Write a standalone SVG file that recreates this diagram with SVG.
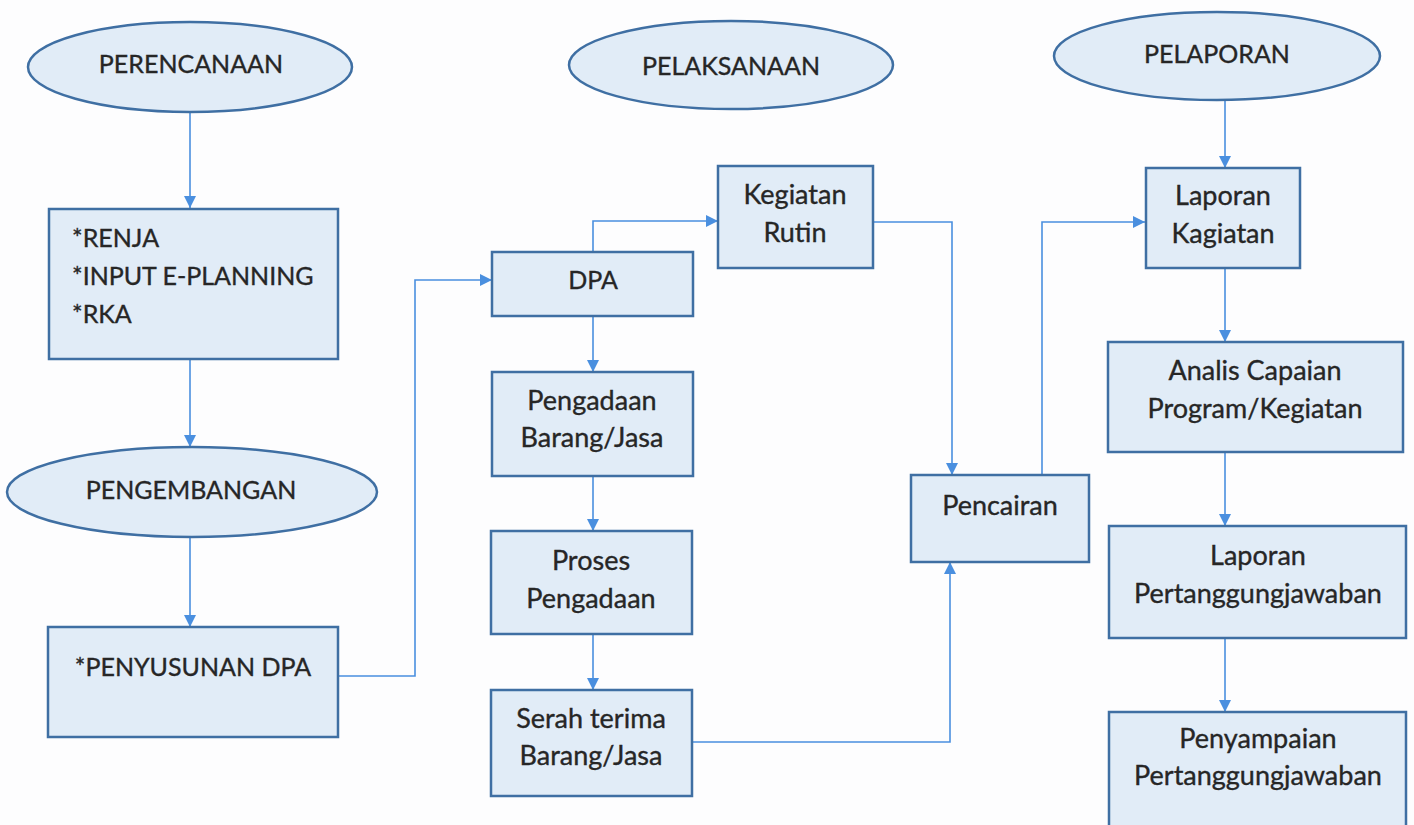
<svg xmlns="http://www.w3.org/2000/svg" width="1414" height="825" viewBox="0 0 1414 825">
  <style>
    .node { fill: #e1ecf7; stroke: #3f6fa3; stroke-width: 2.5; }
    .label { font-family: Lato, "Liberation Sans", sans-serif; font-size: 27px; fill: #262626; stroke: #262626; stroke-width: 0.35; text-anchor: middle; }
    .caps { font-size: 25px; }
    .left { text-anchor: start; }
    .link { fill: none; stroke: #4a8fdf; stroke-width: 1.6; }
  </style>
  <defs>
    <marker id="arrow" viewBox="0 0 10 10" refX="10" refY="5" markerWidth="12" markerHeight="12" markerUnits="userSpaceOnUse" orient="auto">
      <path d="M0,0 L10,5 L0,10 z" fill="#4a8fdf"/>
    </marker>
  </defs>
  <rect width="1414" height="825" fill="#fdfdfe"/>

  <!-- connectors -->
  <g id="connectors">
    <path class="link" d="M190,112 V208" marker-end="url(#arrow)"/>
    <path class="link" d="M190,359 V447" marker-end="url(#arrow)"/>
    <path class="link" d="M190,537 V627" marker-end="url(#arrow)"/>
    <path class="link" d="M338,676 H415 V280 H492" marker-end="url(#arrow)"/>
    <path class="link" d="M593,252 V221 H718" marker-end="url(#arrow)"/>
    <path class="link" d="M593,316 V372" marker-end="url(#arrow)"/>
    <path class="link" d="M593,476 V531" marker-end="url(#arrow)"/>
    <path class="link" d="M593,634 V690" marker-end="url(#arrow)"/>
    <path class="link" d="M873,222 H952 V475" marker-end="url(#arrow)"/>
    <path class="link" d="M692,742 H950 V562" marker-end="url(#arrow)"/>
    <path class="link" d="M1042,475 V222 H1145" marker-end="url(#arrow)"/>
    <path class="link" d="M1225,100 V168" marker-end="url(#arrow)"/>
    <path class="link" d="M1225,268 V342" marker-end="url(#arrow)"/>
    <path class="link" d="M1225,452 V526" marker-end="url(#arrow)"/>
    <path class="link" d="M1225,638 V712" marker-end="url(#arrow)"/>
  </g>

  <!-- planning column -->
  <g id="perencanaan">
    <ellipse class="node" cx="190" cy="67" rx="162" ry="45"/>
    <text class="label caps" x="191" y="73">PERENCANAAN</text>
  </g>
  <g id="renja">
    <rect class="node" x="49" y="209" width="289" height="150"/>
    <text class="label caps left" x="72" y="247">*RENJA</text>
    <text class="label caps left" x="72" y="285">*INPUT E-PLANNING</text>
    <text class="label caps left" x="72" y="323">*RKA</text>
  </g>
  <g id="pengembangan">
    <ellipse class="node" cx="192" cy="492" rx="185" ry="45"/>
    <text class="label caps" x="191" y="499">PENGEMBANGAN</text>
  </g>
  <g id="penyusunan-dpa">
    <rect class="node" x="48" y="627" width="290" height="110"/>
    <text class="label caps" x="193" y="676">*PENYUSUNAN DPA</text>
  </g>

  <!-- execution column -->
  <g id="pelaksanaan">
    <ellipse class="node" cx="731" cy="65" rx="162" ry="44"/>
    <text class="label caps" x="731" y="75">PELAKSANAAN</text>
  </g>
  <g id="dpa">
    <rect class="node" x="492" y="252" width="201" height="64"/>
    <text class="label caps" x="593" y="289">DPA</text>
  </g>
  <g id="kegiatan-rutin">
    <rect class="node" x="718" y="166" width="155" height="102"/>
    <text class="label" x="795" y="204">Kegiatan</text>
    <text class="label" x="795" y="242">Rutin</text>
  </g>
  <g id="pengadaan">
    <rect class="node" x="492" y="372" width="201" height="104"/>
    <text class="label" x="592" y="410">Pengadaan</text>
    <text class="label" x="592" y="447">Barang/Jasa</text>
  </g>
  <g id="proses-pengadaan">
    <rect class="node" x="491" y="531" width="201" height="103"/>
    <text class="label" x="591" y="570">Proses</text>
    <text class="label" x="591" y="608">Pengadaan</text>
  </g>
  <g id="serah-terima">
    <rect class="node" x="491" y="690" width="201" height="106"/>
    <text class="label" x="591" y="728">Serah terima</text>
    <text class="label" x="591" y="765">Barang/Jasa</text>
  </g>
  <g id="pencairan">
    <rect class="node" x="911" y="475" width="178" height="87"/>
    <text class="label" x="1000" y="515">Pencairan</text>
  </g>

  <!-- reporting column -->
  <g id="pelaporan">
    <ellipse class="node" cx="1217" cy="56" rx="163" ry="44"/>
    <text class="label caps" x="1217" y="63">PELAPORAN</text>
  </g>
  <g id="laporan-kegiatan">
    <rect class="node" x="1146" y="168" width="154" height="100"/>
    <text class="label" x="1223" y="205">Laporan</text>
    <text class="label" x="1223" y="243">Kagiatan</text>
  </g>
  <g id="analis-capaian">
    <rect class="node" x="1108" y="342" width="295" height="110"/>
    <text class="label" x="1255" y="380">Analis Capaian</text>
    <text class="label" x="1255" y="418">Program/Kegiatan</text>
  </g>
  <g id="laporan-pertanggungjawaban">
    <rect class="node" x="1109" y="526" width="297" height="112"/>
    <text class="label" x="1258" y="565">Laporan</text>
    <text class="label" x="1258" y="603">Pertanggungjawaban</text>
  </g>
  <g id="penyampaian">
    <rect class="node" x="1109" y="712" width="297" height="118"/>
    <text class="label" x="1258" y="748">Penyampaian</text>
    <text class="label" x="1258" y="785">Pertanggungjawaban</text>
  </g>
</svg>
